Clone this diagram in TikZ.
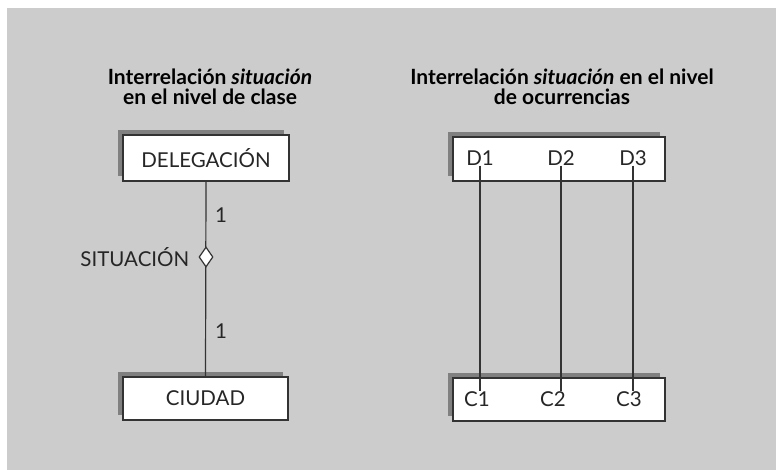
\documentclass[tikz,border=0pt]{standalone}
\usepackage{fontspec}
\setmainfont{Lato}
\usetikzlibrary{shapes.geometric,shadows}
\definecolor{bggray}{HTML}{CCCCCC}
\definecolor{shadowgray}{HTML}{808080}
\definecolor{linegray}{HTML}{333333}
\begin{document}
\begin{tikzpicture}[x=1pt, y=-1pt,
  every node/.style={font=\fontsize{20.5}{24}\selectfont, text=black!85},
  title/.style={font=\fontsize{21}{20}\selectfont\bfseries, align=center, text=black},
  entbox/.style={draw=linegray, line width=1.2pt, fill=white, rectangle, inner sep=0pt,
    general shadow={fill=shadowgray, shadow xshift=-5pt, shadow yshift=5pt}},
  occ/.style={inner sep=0pt, anchor=center},
  link/.style={draw=linegray, line width=1.2pt}]
  \useasboundingbox (0,0) rectangle (776,470);
  \fill[bggray] (7,8) rectangle (776,470);

  % Class level
  \node[title] (lefttitle) at (210,87) {Interrelación \textit{situación}\\en el nivel de clase};
  \node[entbox, minimum width=166pt, minimum height=46pt] (deleg) at (206,158) {DELEGACIÓN};
  \node[entbox, minimum width=165pt, minimum height=43pt] (ciudad) at (205.5,398.5) {CIUDAD};
  \draw[link] (deleg.south) -- (ciudad.north);
  \node[diamond, draw=linegray, line width=1.2pt, fill=white, inner sep=0pt,
    minimum width=14pt, minimum height=20pt] (rombo) at (206,257) {};
  \node[anchor=east, inner sep=0pt, xshift=-9pt] (situ) at (rombo.west) {SITUACIÓN};
  \node (card1) at (221,215) {1};
  \node (card2) at (221,331) {1};

  % Occurrence level
  \node[title] (righttitle) at (562,87) {Interrelación \textit{situación} en el nivel\\de ocurrencias};
  \node[entbox, minimum width=212pt, minimum height=44pt] (dbox) at (559,159) {};
  \node[entbox, minimum width=212pt, minimum height=43pt] (cbox) at (559,399.5) {};
  \foreach \n/\dx/\cx in {1/480/477, 2/561/553, 3/633/629} {
    \node[occ] (D\n) at (\dx,158) {D\n};
    \node[occ] (C\n) at (\cx,399) {C\n};
    \draw[link] (D\n.south) -- (D\n.south |- C\n.north);
  }
\end{tikzpicture}
\end{document}
